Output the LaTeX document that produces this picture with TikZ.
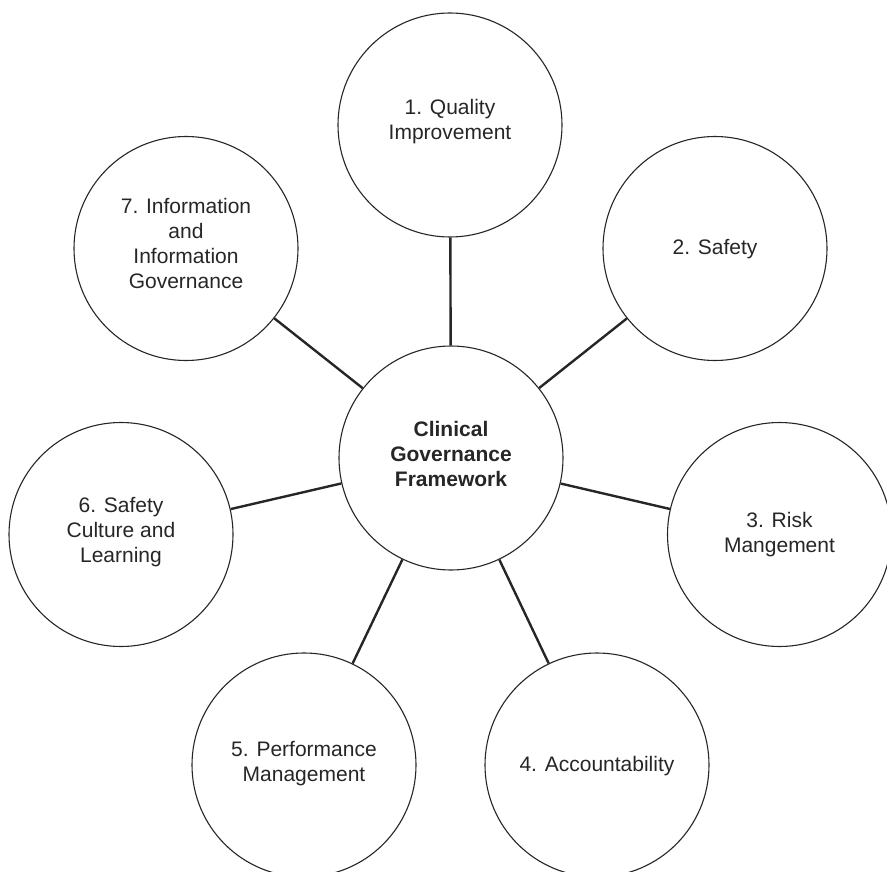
\documentclass[tikz,border=0pt]{standalone}
\usepackage{fontspec}
\setmainfont{Liberation Sans}
\begin{document}
\begin{tikzpicture}[x=1pt,y=-1pt,
  bubble/.style={circle,draw=black!85,line width=1.1pt,minimum size=224pt,inner sep=0pt},
  lbl/.style={align=center,inner sep=0pt,font=\fontsize{21}{25}\selectfont,text=black!85},
  link/.style={line width=2.4pt,draw=black!85}]
\useasboundingbox (0,0) rectangle (887,872);
\node[bubble] (c) at (451,458) {};
\node[bubble] (o1) at (450,125) {};
\node[bubble] (o2) at (715,248.5) {};
\node[bubble] (o3) at (779.5,534.5) {};
\node[bubble] (o4) at (597,765) {};
\node[bubble] (o5) at (304,765) {};
\node[bubble] (o6) at (121,534.5) {};
\node[bubble] (o7) at (186,248.5) {};
\node[lbl,font=\fontsize{21}{25}\selectfont\bfseries] (tc) at ([yshift=4pt]c.center) {Clinical\\Governance\\Framework};
\node[lbl] (t1) at ([yshift=3pt]o1.center) {1. Quality\\Improvement};
\node[lbl] (t2) at ([yshift=-1pt]o2.center) {2. Safety};
\node[lbl] (t3) at (o3.center) {3. Risk\\Mangement};
\node[lbl] (t4) at ([yshift=-1pt]o4.center) {4. Accountability};
\node[lbl] (t5) at ([yshift=1pt]o5.center) {5. Performance\\Management};
\node[lbl] (t6) at ([yshift=2pt]o6.center) {6. Safety\\Culture and\\Learning};
\node[lbl] (t7) at ([yshift=5pt]o7.center) {7. Information\\and\\Information\\Governance};
\foreach \o in {o1,o2,o3,o4,o5,o6,o7} \draw[link] (c) -- (\o);
\end{tikzpicture}
\end{document}
